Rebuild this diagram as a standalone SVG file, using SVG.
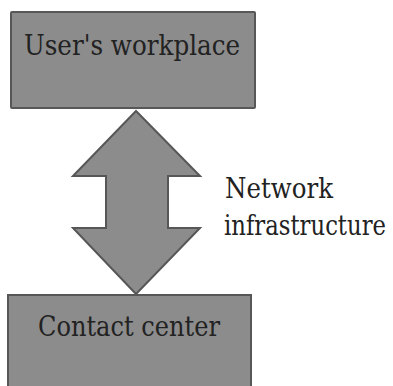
<svg xmlns="http://www.w3.org/2000/svg" width="393" height="386" viewBox="0 0 393 386">
<style>
.box{fill:#8c8c8c;stroke:#575757;stroke-width:2}
text{font-family:'DejaVu Serif',serif;font-size:28px;fill:#222}
</style>
<rect width="393" height="386" fill="#fff"/>
<g id="connectors">
<polygon class="box" points="136,111 73,176 106,176 106,228 73,228 136,294 200,228 168,228 168,176 200,176"/>
<text x="225" y="198" textLength="108" lengthAdjust="spacingAndGlyphs">Network</text>
<text x="224" y="235" textLength="162" lengthAdjust="spacingAndGlyphs">infrastructure</text>
</g>
<g id="users-workplace">
<rect class="box" x="11" y="12" width="244" height="96" rx="1"/>
<text x="24" y="55" textLength="216" lengthAdjust="spacingAndGlyphs">User's workplace</text>
</g>
<g id="contact-center">
<rect class="box" x="8" y="295" width="243" height="100"/>
<text x="38" y="336" textLength="182" lengthAdjust="spacingAndGlyphs">Contact center</text>
</g>
</svg>
